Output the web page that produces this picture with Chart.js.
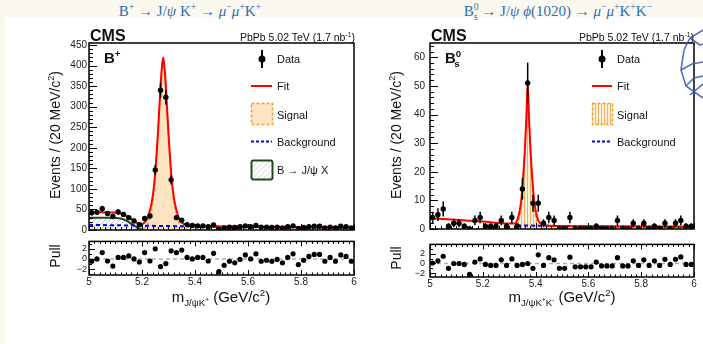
<!DOCTYPE html>
<html>
<head>
<meta charset="utf-8">
<script src="https://cdn.jsdelivr.net/npm/chart.js@4.4.0/dist/chart.umd.min.js"></script>
<style>
  body { margin:0; width:703px; height:344px; background:#fbf8f0; position:relative; overflow:hidden; font-family:"Liberation Sans", Arial, sans-serif; color:#111; }
  .card { position:absolute; left:5px; top:17px; right:0; bottom:0; background:#fff; }
  .title { position:absolute; top:4px; font-family:"Liberation Serif", "DejaVu Serif", serif; font-size:15px; color:#2f6fb3; white-space:nowrap; transform:translateX(-50%); line-height:1; }
  canvas { position:absolute; }
  .t { position:absolute; white-space:nowrap; line-height:1; }
  .cms { font-weight:bold; font-size:16px; }
  .lumi { font-size:10.5px; }
  .tag { font-weight:bold; font-size:15px; }
  .leg { font-size:11px; transform:translateY(-50%); }
  .ytitle { font-size:14px; transform:translate(-50%,-50%) rotate(-90deg); }
  .xtitle { font-size:15px; transform:translateX(-50%); }
  sup, sub { font-size:65%; line-height:0; }
</style>
</head>
<body>
<div class="card"></div>
<div class="title" style="left:190px">B<sup>+</sup> → J/<i>ψ</i> K<sup>+</sup> → <i>μ</i><sup>−</sup><i>μ</i><sup>+</sup>K<sup>+</sup></div>
<div class="title" style="left:558px">B<sup>0</sup><sub style="margin-left:-5px">s</sub> → J/<i>ψ</i> <i>ϕ</i>(1020) → <i>μ</i><sup>−</sup><i>μ</i><sup>+</sup>K<sup>+</sup>K<sup>−</sup></div>

<canvas id="bpMain" width="360" height="210" style="left:0;top:30px"></canvas>
<canvas id="bpPull" width="360" height="60" style="left:0;top:234px"></canvas>
<canvas id="bsMain" width="333" height="210" style="left:370px;top:30px"></canvas>
<canvas id="bsPull" width="333" height="62" style="left:370px;top:234px"></canvas>

<svg width="703" height="344" style="position:absolute;left:0;top:0;pointer-events:none">
  <defs>
    <pattern id="stripes" width="3" height="4" patternUnits="userSpaceOnUse">
      <rect width="3" height="4" fill="#fdf1df"/>
      <rect x="1" width="1" height="4" fill="#f6b25a"/>
    </pattern>
    <pattern id="hatch" width="4" height="4" patternUnits="userSpaceOnUse" patternTransform="rotate(45)">
      <rect width="4" height="4" fill="#fff"/>
      <line x1="0" y1="0" x2="0" y2="4" stroke="#c8c8c8" stroke-width="1.2"/>
    </pattern>
  </defs>
  <!-- legend B+ -->
  <line x1="262" y1="50" x2="262" y2="68" stroke="#000" stroke-width="2"/>
  <circle cx="262" cy="59" r="3.5" fill="#000"/>
  <line x1="251" y1="86" x2="272" y2="86" stroke="#ff0000" stroke-width="2"/>
  <rect x="251.5" y="103.5" width="21" height="21" fill="#fde5c6" stroke="#f7a020" stroke-width="1.5" stroke-dasharray="3,2"/>
  <line x1="251" y1="141.5" x2="272" y2="141.5" stroke="#0000ff" stroke-width="2" stroke-dasharray="3,2"/>
  <rect x="251.5" y="160.5" width="21" height="19" rx="2" fill="url(#hatch)" stroke="#1d4a1d" stroke-width="2"/>
  <!-- legend Bs -->
  <line x1="602" y1="50" x2="602" y2="68" stroke="#000" stroke-width="2"/>
  <circle cx="602" cy="59" r="3.5" fill="#000"/>
  <line x1="592" y1="86" x2="612" y2="86" stroke="#ff0000" stroke-width="2"/>
  <rect x="592.5" y="103.5" width="20" height="21" fill="url(#stripes)" stroke="#f7a020" stroke-width="1.5" stroke-dasharray="3,2"/>
  <line x1="592" y1="141.5" x2="612" y2="141.5" stroke="#0000ff" stroke-width="2" stroke-dasharray="3,2"/>
  <!-- deco -->
  <g fill="none" stroke="#3c56b5" stroke-width="1.6" opacity="0.85">
    <polyline points="703,30 690,38 684,50 681,70 686,86 703,98"/>
    <polyline points="690,38 700,45 703,44"/>
    <polyline points="681,70 692,64 703,62"/>
    <polyline points="686,86 694,78 703,76"/>
    <polyline points="690,95 703,84"/>
  </g>
</svg>

<div class="t cms" style="left:90px;top:28px">CMS</div>
<div class="t lumi" style="right:348px;top:32px">PbPb 5.02 TeV (1.7 nb<sup>-1</sup>)</div>
<div class="t tag" style="left:104px;top:50px">B<sup>+</sup></div>
<div class="t leg" style="left:277px;top:59px">Data</div>
<div class="t leg" style="left:277px;top:86px">Fit</div>
<div class="t leg" style="left:277px;top:115px">Signal</div>
<div class="t leg" style="left:277px;top:142px">Background</div>
<div class="t leg" style="left:277px;top:170px">B → J/ψ X</div>
<div class="t ytitle" style="left:55px;top:135px">Events / (20 MeV/c<sup>2</sup>)</div>
<div class="t ytitle" style="left:55px;top:256px">Pull</div>
<div class="t xtitle" style="left:221px;top:289px">m<sub>J/ψK<sup>+</sup></sub> (GeV/c<sup>2</sup>)</div>

<div class="t cms" style="left:431px;top:28px">CMS</div>
<div class="t lumi" style="right:9px;top:32px">PbPb 5.02 TeV (1.7 nb<sup>-1</sup>)</div>
<div class="t tag" style="left:445px;top:50px">B<sup>0</sup><sub style="margin-left:-7px">s</sub></div>
<div class="t leg" style="left:617px;top:59px">Data</div>
<div class="t leg" style="left:617px;top:86px">Fit</div>
<div class="t leg" style="left:617px;top:115px">Signal</div>
<div class="t leg" style="left:617px;top:142px">Background</div>
<div class="t ytitle" style="left:396px;top:135px">Events / (20 MeV/c<sup>2</sup>)</div>
<div class="t ytitle" style="left:396px;top:258px">Pull</div>
<div class="t xtitle" style="left:562px;top:289px">m<sub>J/ψK<sup>+</sup>K<sup>-</sup></sub> (GeV/c<sup>2</sup>)</div>

<script>
// bin centres (20 MeV bins)
const binCenters = [5.01,5.03,5.05,5.07,5.09,5.11,5.13,5.15,5.17,5.19,5.21,5.23,5.25,5.27,5.29,5.31,5.33,5.35,5.37,5.39,
  5.41,5.43,5.45,5.47,5.49,5.51,5.53,5.55,5.57,5.59,5.61,5.63,5.65,5.67,5.69,5.71,5.73,5.75,5.77,5.79,
  5.81,5.83,5.85,5.87,5.89,5.91,5.93,5.95,5.97,5.99];
const xTickLabels = ['5', '5.2', '5.4', '5.6', '5.8', '6'];

// B+ panel
const bpCounts = [42,43,52,40,33,44,38,30,22,13, 28,34,146,340,323,122,30,24,13,11,
  10,10,8,12,2,5,7,6,8,10, 8,11,7,7,6,7,5,8,10,4, 6,8,9,9,5,7,5,9,8,5];
const bpPulls = [-0.45,0,1.25,-0.4,-1.4,0.3,0.3,0.6,0,-0.6, 1.25,-0.4,2.0,-1.5,-0.9,1.6,1.25,1.75,0.3,0,
  0.3,0.3,-0.4,1.1,-2.5,-1.25,-0.45,-0.75,-0.1,0.8, 0,1.0,-0.45,-0.25,-0.45,-0.1,-0.75,0.3,1.0,-1.1,
  -0.25,0.5,0.9,0.9,-0.45,0.3,-0.45,0.8,0.5,-0.45];
const bpFitX = [5.0,5.04,5.08,5.10,5.12,5.14,5.16,5.175,5.19,5.20,5.21,5.22,5.23,5.24,5.25,5.26,5.27,5.275,5.28,5.285,5.29,5.30,5.31,5.32,5.33,5.34,5.35,5.37,5.40,5.5,5.6,5.7,5.8,5.9,6.0];
const bpFitY = [43,43,42.5,42,40,35,27,20,15,15,18,27,48,80,140,235,350,395,420,395,350,235,140,80,48,28,18,12,9.5,8.5,7.8,7.3,7,6.7,6.5];
const bpSigX = [5.0,5.18,5.20,5.21,5.22,5.23,5.24,5.25,5.26,5.27,5.275,5.28,5.285,5.29,5.30,5.31,5.32,5.33,5.34,5.35,5.37,5.40,6.0];
const bpSigY = [0,0,2,5,12,33,66,128,224,340,385,410,385,340,225,130,70,38,18,8,2,0,0];
const bpBkgX = [5.0,5.2,5.4,5.6,5.8,6.0];
const bpBkgY = [12.5,10.5,8.8,7.8,7.1,6.5];
const bpJpsiXX = [5.0,5.06,5.10,5.12,5.14,5.16,5.18,5.20,5.22,5.24];
const bpJpsiXY = [30,30,29.5,28,23,15,7,2,0.3,0];

// Bs panel
const bsCounts = [4,5,7,1,2,2,1,0,3,4, 1,1,1,3,1,4,1,14,51,9,
  9,2,4,3,0,0,4,0,0,0, 0,1,0,0,0,3,0,0,2,0, 2,0,1,0,2,0,2,3,1,1];
const bsPulls = [0.1,0.55,1.5,-1.0,0,0,-0.2,-2.25,0.3,0.95, -0.2,-0.4,-0.4,0.75,-0.4,0.95,-0.4,-0.2,0,-1.0,
  1.8,-0.4,1.2,0.75,-1.0,-1.0,1.3,-0.7,-0.7,-0.7, -0.7,0.3,-0.5,-0.5,-0.5,1.2,-0.5,-0.5,0.55,-0.4,
  0.75,-0.4,0.55,-0.4,0.85,-0.2,0.85,1.35,-0.2,-0.2];
const bsFitX = [5.0,5.1,5.2,5.3,5.32,5.33,5.335,5.34,5.345,5.35,5.355,5.36,5.365,5.37,5.375,5.38,5.385,5.39,5.395,5.40,5.405,5.41,5.42,5.44,5.5,5.6,5.8,6.0];
const bsFitY = [3.8,3.2,2.6,1.9,1.9,3.0,4.5,6.5,9.5,14.5,21,29,39,51,39,29,21,14.5,9.5,6.5,4.5,3,1.8,1.2,1.0,0.95,0.85,0.75];
const bsSigX = [5.0,5.32,5.33,5.335,5.34,5.345,5.35,5.355,5.36,5.365,5.37,5.375,5.38,5.385,5.39,5.395,5.40,5.405,5.41,5.42,6.0];
const bsSigY = [0,0,1,2.5,4.5,7.5,12.5,19,27,37,49.5,37,27,19,12.5,7.5,4.5,2.5,1,0,0];
const bsBkgX = [5.33,5.45,5.6,5.8,6.0];
const bsBkgY = [1.25,1.1,0.95,0.85,0.75];

Chart.defaults.font.family = '"Liberation Sans", Arial, sans-serif';
Chart.defaults.color = '#222';

function pts(xs, ys) { return xs.map((x, i) => ({ x: x, y: ys[i] })); }

function stripePattern() {
  const c = document.createElement('canvas');
  c.width = 3; c.height = 4;
  const g = c.getContext('2d');
  g.fillStyle = '#fdf1df'; g.fillRect(0, 0, 3, 4);
  g.fillStyle = '#f6b25a'; g.fillRect(1, 0, 1, 4);
  return g.createPattern(c, 'repeat');
}
function hatchPattern() {
  const c = document.createElement('canvas');
  c.width = 5; c.height = 5;
  const g = c.getContext('2d');
  g.strokeStyle = '#c4c4c4'; g.lineWidth = 1;
  g.beginPath(); g.moveTo(0, 5); g.lineTo(5, 0); g.stroke();
  return g.createPattern(c, 'repeat');
}

// ROOT-like frame with ticks pointing inwards
const rootFrame = {
  id: 'rootFrame',
  afterDatasetsDraw(chart, args, o) {
    const ctx = chart.ctx, a = chart.chartArea;
    const xs = chart.scales.x, ys = chart.scales.y;
    ctx.save();
    ctx.strokeStyle = '#000';
    ctx.lineWidth = 1;
    // y ticks on the left edge
    const ny = Math.round((ys.max - ys.min) / o.yMinor) + 1;
    const y0 = Math.ceil(ys.min / o.yMinor) * o.yMinor;
    for (let i = 0; i < ny; i++) {
      const v = y0 + i * o.yMinor;
      if (v > ys.max + 1e-9) break;
      const major = Math.abs(v / o.yMajor - Math.round(v / o.yMajor)) < 1e-6;
      const py = Math.round(ys.getPixelForValue(v)) + 0.5;
      ctx.beginPath();
      ctx.moveTo(a.left, py);
      ctx.lineTo(a.left + (major ? o.yLen[0] : o.yLen[1]), py);
      ctx.stroke();
    }
    // x ticks
    const nx = Math.round((xs.max - xs.min) / o.xMinor);
    for (let i = 0; i <= nx; i++) {
      const v = xs.min + i * o.xMinor;
      const major = Math.abs(v / 0.2 - Math.round(v / 0.2)) < 1e-6;
      const len = major ? o.xLen[0] : o.xLen[1];
      const px = Math.round(xs.getPixelForValue(v)) + 0.5;
      ctx.beginPath();
      ctx.moveTo(px, a.bottom); ctx.lineTo(px, a.bottom - len);
      if (o.top) { ctx.moveTo(px, a.top); ctx.lineTo(px, a.top + len); }
      ctx.stroke();
    }
    ctx.lineWidth = 1.5;
    ctx.strokeRect(a.left, a.top, a.right - a.left, a.bottom - a.top);
    ctx.restore();
  }
};

// vertical error bars for the data points
const errBars = {
  id: 'errBars',
  afterDatasetsDraw(chart) {
    const ctx = chart.ctx, ys = chart.scales.y;
    chart.data.datasets.forEach((ds, di) => {
      if (!ds.errHi) return;
      const meta = chart.getDatasetMeta(di);
      ctx.save();
      ctx.strokeStyle = '#000';
      ctx.lineWidth = 1.5;
      meta.data.forEach((p, i) => {
        const y = ds.data[i].y;
        ctx.beginPath();
        ctx.moveTo(p.x, ys.getPixelForValue(Math.max(y - ds.errLo[i], 0)));
        ctx.lineTo(p.x, ys.getPixelForValue(y + ds.errHi[i]));
        ctx.stroke();
      });
      ctx.restore();
    });
  }
};

// dashed zero line in the pull pads
const zeroLine = {
  id: 'zeroLine',
  beforeDatasetsDraw(chart, args, o) {
    if (!o.on) return;
    const ctx = chart.ctx, a = chart.chartArea;
    const py = chart.scales.y.getPixelForValue(0);
    ctx.save();
    ctx.strokeStyle = '#b0b0b0';
    ctx.lineWidth = 1.5;
    ctx.setLineDash([4, 3]);
    ctx.beginPath(); ctx.moveTo(a.left, py); ctx.lineTo(a.right, py); ctx.stroke();
    ctx.restore();
  }
};

function curve(xs, ys, extra) {
  return Object.assign({
    data: pts(xs, ys), showLine: true, pointRadius: 0, borderWidth: 2,
    cubicInterpolationMode: 'monotone', fill: false
  }, extra);
}

const noGrid = { display: false, drawTicks: false };

function mainChart(id, cfg) {
  const errLo = cfg.counts.map(n => Math.sqrt(n));
  const errHi = cfg.counts.map(n => n === 0 ? 1.15 : Math.sqrt(n));
  const datasets = [
    Object.assign({ data: pts(binCenters, cfg.counts), pointRadius: 2.7, backgroundColor: '#000',
      borderWidth: 0, order: 0 }, { errLo: errLo, errHi: errHi }),
    curve(cfg.fitX, cfg.fitY, { borderColor: '#ff0000', order: 1 }),
    curve(cfg.bkgX, cfg.bkgY, { borderColor: '#0000ff', borderDash: [4, 3], order: 2 }),
    curve(cfg.sigX, cfg.sigY, { borderColor: '#f7a020', borderWidth: 1.5, borderDash: [3, 2],
      fill: 'origin', backgroundColor: cfg.sigFill, order: 3 })
  ];
  if (cfg.jpsiX) {
    datasets.push(curve(cfg.jpsiX, cfg.jpsiY, { borderColor: '#1d4a1d', fill: 'origin',
      backgroundColor: hatchPattern(), order: 4 }));
  }
  return new Chart(document.getElementById(id), {
    type: 'scatter',
    data: { datasets: datasets },
    options: {
      responsive: false, animation: false, devicePixelRatio: 1,
      layout: { padding: { left: 0, top: 13, right: cfg.padRight, bottom: 10 } },
      plugins: { legend: { display: false }, tooltip: { enabled: false },
        rootFrame: { yMajor: cfg.yStep, yMinor: cfg.yMinor, yLen: [8, 4], xMinor: 0.02, xLen: [6, 3], top: false },
        zeroLine: { on: false } },
      scales: {
        x: { type: 'linear', min: 5, max: 6, display: false },
        y: { min: 0, max: cfg.yMax, grid: noGrid, border: { display: false },
          ticks: { stepSize: cfg.yStep, includeBounds: false, autoSkip: false, padding: cfg.labelPad, font: { size: 10 } },
          afterFit(s) { s.width = cfg.yWidth; } }
      }
    },
    plugins: [zeroLine, errBars, rootFrame]
  });
}

function pullChart(id, cfg) {
  return new Chart(document.getElementById(id), {
    type: 'scatter',
    data: { datasets: [{ data: pts(binCenters, cfg.pulls), pointRadius: 2.6, backgroundColor: '#000', borderWidth: 0 }] },
    options: {
      responsive: false, animation: false, devicePixelRatio: 1,
      layout: { padding: { left: 0, top: cfg.padTop, right: cfg.padRight, bottom: 0 } },
      plugins: { legend: { display: false }, tooltip: { enabled: false },
        rootFrame: { yMajor: 2, yMinor: 1, yLen: [6, 3], xMinor: 0.02, xLen: [5, 2.5], top: true },
        zeroLine: { on: true } },
      scales: {
        x: { type: 'linear', min: 5, max: 6, grid: noGrid, border: { display: false },
          ticks: { stepSize: 0.2, padding: 1, font: { size: 10 }, maxRotation: 0, autoSkip: false,
            callback: (v, i) => xTickLabels[i] },
          afterFit(s) { s.height = 19; } },
        y: { min: cfg.yMin, max: cfg.yMax, grid: noGrid, border: { display: false },
          ticks: { stepSize: 2, includeBounds: false, autoSkip: false, padding: cfg.labelPad, font: { size: 9 },
            callback: v => (v < 0 ? '\u2212' + (-v) : String(v)) },
          afterFit(s) { s.width = cfg.yWidth; } }
      }
    },
    plugins: [zeroLine, rootFrame]
  });
}

mainChart('bpMain', { counts: bpCounts, fitX: bpFitX, fitY: bpFitY, bkgX: bpBkgX, bkgY: bpBkgY,
  sigX: bpSigX, sigY: bpSigY, sigFill: '#fde3c0', jpsiX: bpJpsiXX, jpsiY: bpJpsiXY,
  yMax: 455, yStep: 50, yMinor: 10, yWidth: 89, padRight: 6, labelPad: 2 });
pullChart('bpPull', { pulls: bpPulls, yMin: -3.15, yMax: 3.45, padTop: 6, padRight: 6, yWidth: 89, labelPad: 2 });

mainChart('bsMain', { counts: bsCounts, fitX: bsFitX, fitY: bsFitY, bkgX: bsBkgX, bkgY: bsBkgY,
  sigX: bsSigX, sigY: bsSigY, sigFill: stripePattern(),
  yMax: 65, yStep: 10, yMinor: 2, yWidth: 60, padRight: 9, labelPad: 5 });
pullChart('bsPull', { pulls: bsPulls, yMin: -2.8, yMax: 3.95, padTop: 7, padRight: 9, yWidth: 60, labelPad: 5 });
</script>
</body>
</html>
